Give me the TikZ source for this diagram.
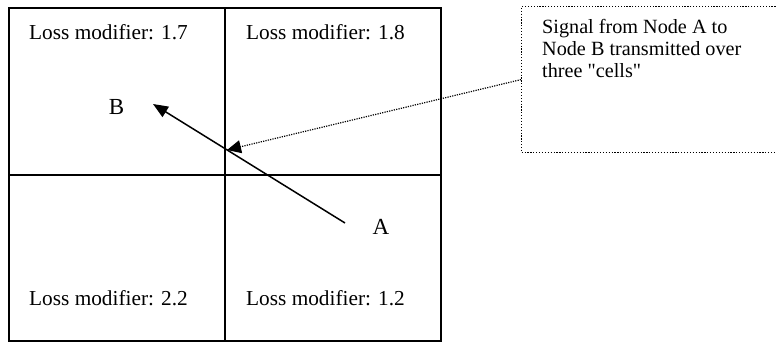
\documentclass[tikz,border=0pt]{standalone}
\usepackage{fontspec}
\setmainfont{Liberation Serif}
\usetikzlibrary{positioning,arrows.meta}

\begin{document}
\begin{tikzpicture}[x=1pt,y=-1pt,
    cellline/.style={line width=2pt},
    losslabel/.style={anchor=base west, inner sep=0pt, font=\fontsize{21.3}{24}\selectfont},
    nodelabel/.style={inner sep=0pt, font=\fontsize{23}{27}\selectfont},
    notebox/.style={draw, line width=1.2pt, dash pattern=on 1.2pt off 1.7pt,
      minimum width=270pt, minimum height=146pt, anchor=north west, inner sep=0pt},
    notetext/.style={inner sep=0pt, align=left, font=\fontsize{20.2}{21.8}\selectfont},
    signal/.style={line width=1.5pt, -{Triangle[length=15pt,width=12pt]}},
    pointer/.style={line width=1.2pt, dash pattern=on 1.2pt off 1.2pt, -{Triangle[length=14pt,width=13pt]}}]
  \useasboundingbox (0,0) rectangle (776,343);
  \clip (0,0) rectangle (776,343);
  % the four cells
  \draw[cellline] (9,8) rectangle (441,341);
  \draw[cellline] (225,8) -- (225,341);
  \draw[cellline] (9,175) -- (441,175);
  \node[losslabel] (loss-nw) at (29,39) {Loss modifier: 1.7};
  \node[losslabel] (loss-ne) at (246,39) {Loss modifier: 1.8};
  \node[losslabel] (loss-sw) at (29,305) {Loss modifier: 2.2};
  \node[losslabel] (loss-se) at (246,305) {Loss modifier: 1.2};
  % nodes and signal path
  \node[nodelabel] (B) at (116.5,107) {B};
  \node[nodelabel] (A) at (381,227) {A};
  \coordinate (a-tail) at (345,223);
  \coordinate (b-tip) at (153,104);
  \coordinate (cross) at (227,150);
  \draw[signal] (a-tail) -- (b-tip);
  % callout
  \node[notebox] (note) at (521,6) {};
  \node[notetext, below right=13.5pt and 21pt of note.north west] (notetext)
    {Signal from Node A to\\Node B transmitted over\\three \textquotedbl cells\textquotedbl};
  \draw[pointer] (note.west) -- (cross);
\end{tikzpicture}
\end{document}
